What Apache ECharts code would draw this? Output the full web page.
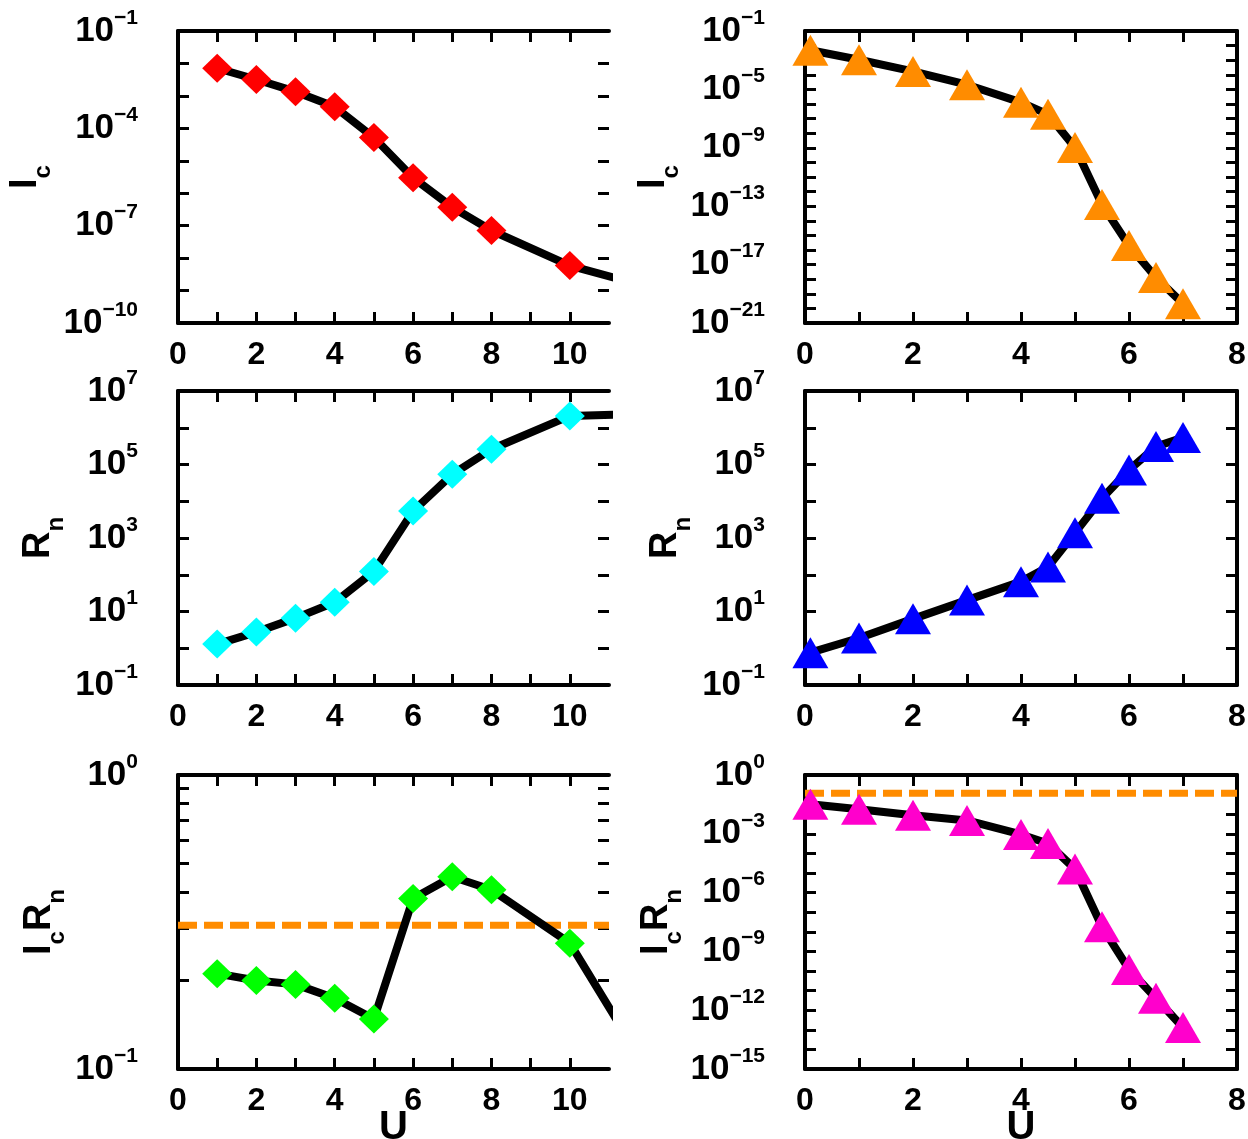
<!DOCTYPE html>
<html>
<head>
<meta charset="utf-8">
<script src="https://cdn.jsdelivr.net/npm/echarts@6/dist/echarts.min.js"></script>
<style>
  html, body { margin: 0; padding: 0; background: #fff; }
  #chart { width: 1248px; height: 1139px; }
</style>
</head>
<body>
<div id="chart"></div>
<script>
// ---- data: left column (diamonds) ----
const uLeft = [1, 2, 3, 4, 5, 6, 7, 8, 10, 12];
const icLeft = [7.1e-3, 3.2e-3, 1.35e-3, 4.6e-4, 5.2e-5, 3.0e-6, 3.7e-7, 7.1e-8, 5.9e-9, 1.3e-9];
const rnLeft = [1.3, 2.75, 6.6, 17.8, 123, 5.4e3, 5.4e4, 2.6e5, 2.1e6, 2.4e6];
const icrnLeft = [0.211, 0.200, 0.194, 0.174, 0.148, 0.380, 0.451, 0.407, 0.268, 0.098];
const icrnRefLeft = 0.308;

// ---- data: right column (triangles) ----
const uRight = [0.1, 1, 2, 3, 4, 4.5, 5, 5.5, 6, 6.5, 7];
const icRight = [4.8e-3, 1.07e-3, 1.7e-4, 2.1e-5, 1.3e-6, 1.95e-7, 1.05e-9, 1.3e-13, 2.0e-16, 1.3e-18, 2.1e-20];
const rnRight = [0.76, 1.9, 6.3, 20.4, 65, 162, 1.38e3, 1.2e4, 7.1e4, 3.1e5, 5.4e5];
const icrnRight = [0.032, 0.018, 8.9e-3, 4.8e-3, 9.3e-4, 3.2e-4, 1.6e-5, 1.8e-8, 1.2e-10, 4.1e-12, 1.3e-13];
const icrnRefRight = 0.117;

// ---- axis ticks and labels ----
const xTicksLeft = [1, 2, 3, 4, 5, 6, 7, 8, 9, 10];
const xLabelsLeft = [0, 2, 4, 6, 8, 10];
const xTicksRight = [1, 2, 3, 4, 5, 6, 7];
const xLabelsRight = [0, 2, 4, 6, 8];

const icLeftTickExp = [-9, -8, -7, -6, -5, -4, -3, -2];
const icLeftLabelExp = [-10, -7, -4, -1];
const icRightTickExp = [-20, -19, -18, -17, -16, -15, -14, -13, -12, -11, -10, -9, -8, -7, -6, -5, -4, -3, -2];
const icRightLabelExp = [-21, -17, -13, -9, -5, -1];
const rnTickExp = [0, 1, 2, 3, 4, 5, 6];
const rnLabelExp = [-1, 1, 3, 5, 7];
const icrnLeftTicks = [0.2, 0.3, 0.4, 0.5, 0.6, 0.7, 0.8, 0.9];
const icrnLeftLabelExp = [-1, 0];
const icrnRightTickExp = [-14, -13, -12, -11, -10, -9, -8, -7, -6, -5, -4, -3, -2, -1];
const icrnRightLabelExp = [-15, -12, -9, -6, -3, 0];

const FONT = '"Liberation Sans", Arial, sans-serif';
const pow10 = e => Math.pow(10, e);

function powerLabel(v) {
  const e = Math.round(Math.log10(v));
  return '{b|10}{s|' + (e < 0 ? '\u2212' + (-e) : String(e)) + '}';
}

const powerRich = {
  b: { fontSize: 35, fontWeight: 'bold', fontFamily: FONT, color: '#000', lineHeight: 47 },
  s: { fontSize: 21, fontWeight: 'bold', fontFamily: FONT, color: '#000', verticalAlign: 'top', lineHeight: 21 }
};

const nameRich = {
  m: { fontSize: 38, fontWeight: 'bold', fontFamily: FONT, color: '#000' },
  s: { fontSize: 24, fontWeight: 'bold', fontFamily: FONT, color: '#000', padding: [35, 0, 0, 0] }
};

const grids = [];
const xAxes = [];
const yAxes = [];
const series = [];

const tickLine = { color: '#000', width: 3 };
const frameLine = { color: '#000', width: 4 };

function addPanel(p) {
  const gi = grids.length;
  grids.push({
    left: p.left, top: p.top, width: p.width, height: p.height,
    containLabel: false, outerBoundsMode: 'none'
  });

  const xBase = {
    type: 'value', gridIndex: gi, min: 0, max: p.xMax,
    splitLine: { show: false },
    axisTick: { show: true, inside: true, length: 11, lineStyle: tickLine, customValues: p.xTicks }
  };
  xAxes.push(Object.assign({}, xBase, {
    position: 'bottom',
    axisLine: { show: true, onZero: false, lineStyle: frameLine },
    axisLabel: {
      show: true, customValues: p.xLabels, margin: 16,
      fontSize: 32, fontWeight: 'bold', fontFamily: FONT, color: '#000'
    },
    name: p.xName || '', nameLocation: 'middle', nameGap: 39, nameMoveOverlap: false,
    nameTextStyle: { fontSize: 40, fontWeight: 'bold', fontFamily: FONT, color: '#000' }
  }));
  xAxes.push(Object.assign({}, xBase, {
    position: 'top',
    axisLine: { show: true, onZero: false, lineStyle: frameLine },
    axisLabel: { show: false }
  }));

  const yBase = {
    type: 'log', logBase: 10, gridIndex: gi, min: p.yMin, max: p.yMax,
    splitLine: { show: false },
    axisTick: { show: true, inside: true, length: 11, lineStyle: tickLine, customValues: p.yTicks }
  };
  yAxes.push(Object.assign({}, yBase, {
    position: 'left',
    axisLine: { show: true, onZero: false, lineStyle: frameLine },
    axisLabel: {
      show: true, customValues: p.yLabels, margin: 40, formatter: powerLabel, rich: powerRich
    },
    name: p.yName, nameLocation: 'middle', nameRotate: 90, nameGap: p.nameGap,
    nameTextStyle: { rich: nameRich }
  }));
  yAxes.push(Object.assign({}, yBase, {
    position: 'right',
    axisLine: { show: p.rightLine, onZero: false, lineStyle: frameLine },
    axisLabel: { show: false }
  }));

  if (p.ref != null) {
    series.push({
      type: 'line', xAxisIndex: 2 * gi, yAxisIndex: 2 * gi,
      data: [[0, p.ref], [p.xMax, p.ref]],
      symbol: 'none', silent: true,
      lineStyle: { color: '#ff8c00', width: 7, type: [19, 7], cap: 'butt' }
    });
  }
  series.push({
    type: 'line', xAxisIndex: 2 * gi, yAxisIndex: 2 * gi,
    data: p.xs.map((x, k) => [x, p.ys[k]]),
    symbol: p.symbol, symbolSize: p.symbolSize, clip: true,
    itemStyle: { color: p.color },
    lineStyle: { color: '#000', width: 8 }
  });
}

const LEFT = { left: 178, width: 431, xMax: 11, xTicks: xTicksLeft, xLabels: xLabelsLeft, rightLine: false,
               xs: uLeft, symbol: 'diamond', symbolSize: [30, 29] };
const RIGHT = { left: 805, width: 432, xMax: 8, xTicks: xTicksRight, xLabels: xLabelsRight, rightLine: true,
                xs: uRight, symbol: 'triangle', symbolSize: [36, 31] };

addPanel(Object.assign({}, LEFT, {
  top: 31, height: 292, yMin: 1e-10, yMax: 1e-1,
  yTicks: icLeftTickExp.map(pow10), yLabels: icLeftLabelExp.map(pow10),
  yName: '{m|I}{s|c}', nameGap: 123, ys: icLeft, color: '#ff0000'
}));
addPanel(Object.assign({}, RIGHT, {
  top: 31, height: 292, yMin: 1e-21, yMax: 1e-1,
  yTicks: icRightTickExp.map(pow10), yLabels: icRightLabelExp.map(pow10),
  yName: '{m|I}{s|c}', nameGap: 122, ys: icRight, color: '#ff8c00'
}));
addPanel(Object.assign({}, LEFT, {
  top: 391, height: 294, yMin: 1e-1, yMax: 1e7,
  yTicks: rnTickExp.map(pow10), yLabels: rnLabelExp.map(pow10),
  yName: '{m|R}{s|n}', nameGap: 110, ys: rnLeft, color: '#00ffff'
}));
addPanel(Object.assign({}, RIGHT, {
  top: 391, height: 294, yMin: 1e-1, yMax: 1e7,
  yTicks: rnTickExp.map(pow10), yLabels: rnLabelExp.map(pow10),
  yName: '{m|R}{s|n}', nameGap: 110, ys: rnRight, color: '#0000ff'
}));
addPanel(Object.assign({}, LEFT, {
  top: 775, height: 294, yMin: 0.1, yMax: 1,
  yTicks: icrnLeftTicks, yLabels: icrnLeftLabelExp.map(pow10),
  yName: '{m|I}{s|c}{m|R}{s|n}', nameGap: 109, ys: icrnLeft, color: '#00ff00',
  ref: icrnRefLeft, xName: 'U'
}));
addPanel(Object.assign({}, RIGHT, {
  top: 775, height: 294, yMin: 1e-15, yMax: 1,
  yTicks: icrnRightTickExp.map(pow10), yLabels: icrnRightLabelExp.map(pow10),
  yName: '{m|I}{s|c}{m|R}{s|n}', nameGap: 119, ys: icrnRight, color: '#ff00cc',
  ref: icrnRefRight, xName: 'U'
}));

const chart = echarts.init(document.getElementById('chart'), null, { renderer: 'canvas' });
chart.setOption({
  animation: false,
  backgroundColor: '#ffffff',
  grid: grids,
  xAxis: xAxes,
  yAxis: yAxes,
  series: series
});
</script>
</body>
</html>
